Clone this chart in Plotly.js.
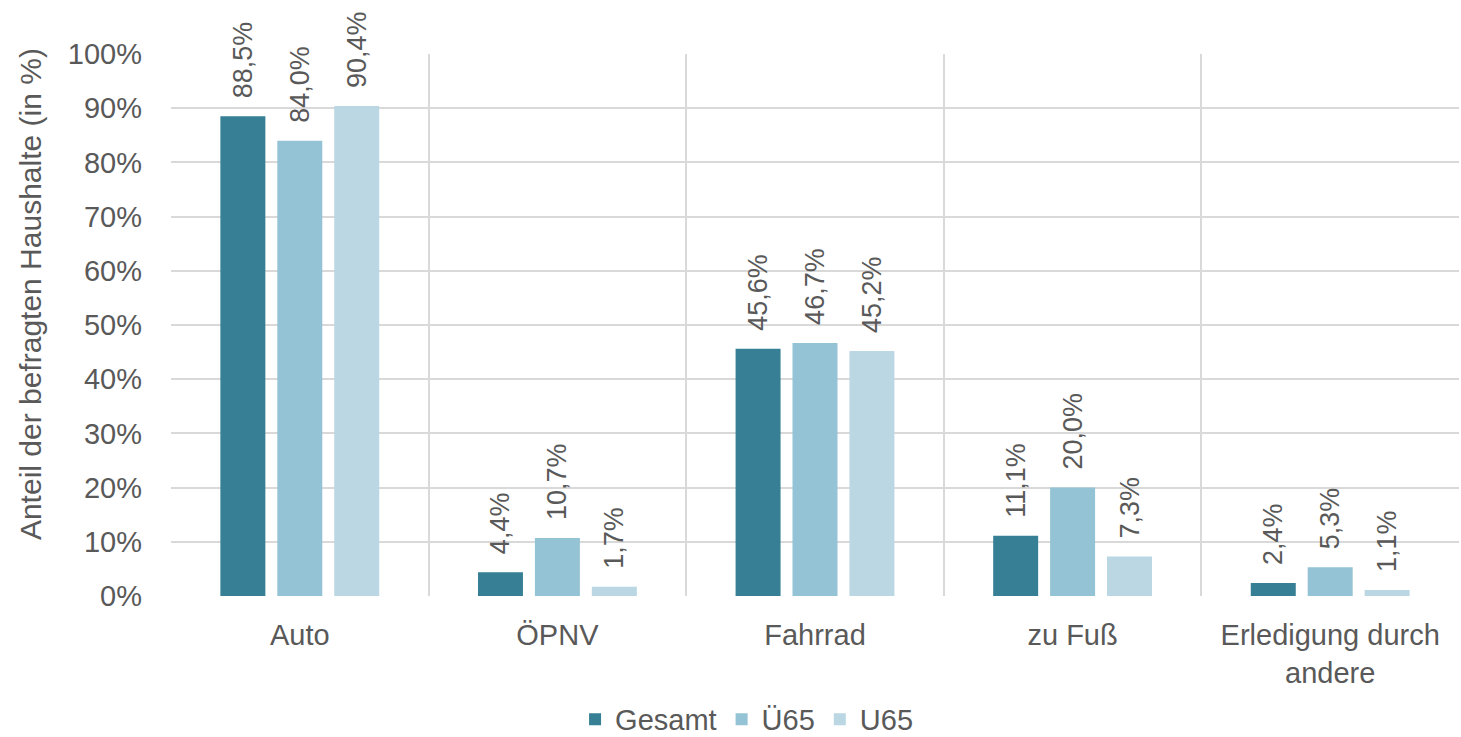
<!DOCTYPE html>
<html>
<head>
<meta charset="utf-8">
<script src="https://cdn.plot.ly/plotly-3.0.1.min.js"></script>
<style>html,body{margin:0;padding:0;background:#fff;}#chart{width:1461px;height:737px;}</style>
</head>
<body>
<div id="chart"></div>
<script>
const categories = ["Auto", "ÖPNV", "Fahrrad", "zu Fuß", "Erledigung durch<br>andere"];
const gesamt = [88.5, 4.4, 45.6, 11.1, 2.4];
const ue65 = [84.0, 10.7, 46.7, 20.0, 5.3];
const u65 = [90.4, 1.7, 45.2, 7.3, 1.1];
const seriesNames = ["Gesamt", "Ü65", "U65"];
const colors = ["#367f94", "#93c3d4", "#bad7e3"];
const yTicks = [0,10,20,30,40,50,60,70,80,90,100];
const yTickText = yTicks.map(v => v + "%");
const yTitle = "Anteil der befragten Haushalte (in %)";

const font = "Liberation Sans, Arial, sans-serif";
const txtColor = "#595959";

const traces = [gesamt, ue65, u65].map((vals, i) => ({
  type: "bar",
  name: seriesNames[i],
  x: categories,
  y: vals,
  marker: {color: colors[i]},
  texttemplate: "\u00a0\u00a0%{y:.1f}%",
  textposition: "outside",
  textangle: -90,
  constraintext: "none",
  cliponaxis: false,
  textfont: {family: font, size: 27, color: txtColor},
  hoverinfo: "skip"
}));

const layout = {
  width: 1461, height: 737,
  margin: {l: 171, r: 2, t: 54, b: 141, autoexpand: false},
  separators: ",.",
  barmode: "group",
  bargap: 0.337,
  bargroupgap: 0.21,
  paper_bgcolor: "#fff",
  plot_bgcolor: "#fff",
  font: {family: font, color: txtColor, size: 28},
  xaxis: {
    type: "category",
    tickson: "boundaries",
    showgrid: true,
    gridcolor: "#d9d9d9",
    gridwidth: 2,
    showline: false,
    ticks: "",
    ticklabelstandoff: 19,
    tickfont: {family: font, size: 29, color: txtColor},
    zeroline: false,
    automargin: false
  },
  yaxis: {
    range: [0, 100],
    tickmode: "array",
    tickvals: yTicks,
    ticktext: yTickText,
    showgrid: true,
    gridcolor: "#d9d9d9",
    gridwidth: 2,
    zeroline: false,
    showline: false,
    ticks: "",
    ticklabelstandoff: 28,
    automargin: false,
    tickfont: {family: font, size: 29, color: txtColor}
  },
  annotations: [{
    text: yTitle,
    textangle: -90,
    xref: "paper", yref: "paper",
    x: -0.1095, y: 0.557,
    xanchor: "center", yanchor: "middle",
    showarrow: false,
    font: {family: font, size: 30, color: txtColor}
  }],
  legend: {
    orientation: "h",
    x: 0.511, xanchor: "center", xref: "container",
    y: 0.024, yanchor: "middle", yref: "container",
    font: {family: font, size: 29, color: txtColor},
    itemwidth: 30,
    traceorder: "normal"
  },
  showlegend: true
};

Plotly.newPlot("chart", traces, layout, {displayModeBar: false, staticPlot: true});
</script>
</body>
</html>
